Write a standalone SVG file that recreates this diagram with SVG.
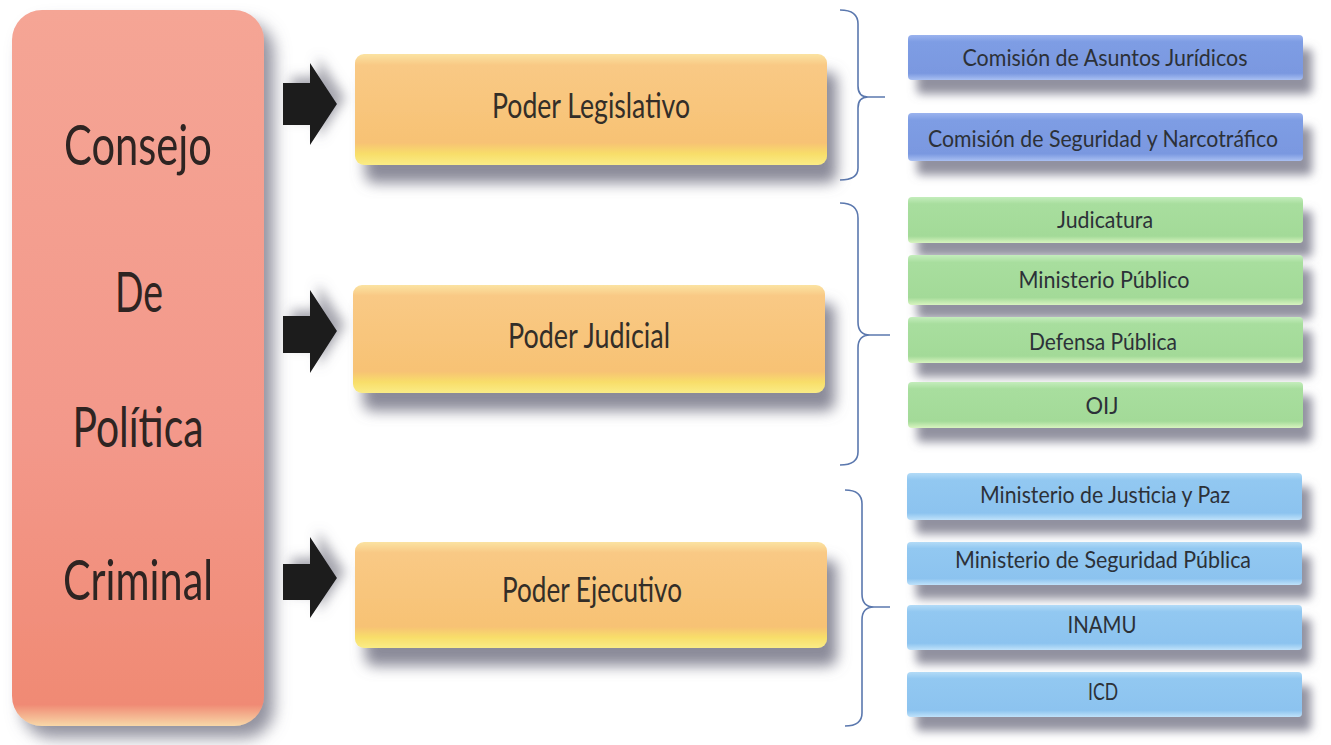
<svg xmlns="http://www.w3.org/2000/svg" width="1331" height="745" viewBox="0 0 1331 745">
<defs>
  <linearGradient id="gSalmon" x1="0" y1="0" x2="0" y2="1">
    <stop offset="0" stop-color="#F5A595"/>
    <stop offset="0.6" stop-color="#F3988A"/>
    <stop offset="0.97" stop-color="#F08A74"/>
    <stop offset="1" stop-color="#F8D8A8"/>
  </linearGradient>
  <linearGradient id="gOrange" x1="0" y1="0" x2="0" y2="1">
    <stop offset="0" stop-color="#FBE3A2"/>
    <stop offset="0.1" stop-color="#F9C985"/>
    <stop offset="0.8" stop-color="#F7C274"/>
    <stop offset="0.9" stop-color="#F8DE6A"/>
    <stop offset="1" stop-color="#FAEC86"/>
  </linearGradient>
  <linearGradient id="gPurple" x1="0" y1="0" x2="0" y2="1">
    <stop offset="0" stop-color="#9BB3EE"/>
    <stop offset="0.15" stop-color="#7E9DE4"/>
    <stop offset="0.85" stop-color="#7A98E0"/>
    <stop offset="1" stop-color="#A9C0F2"/>
  </linearGradient>
  <linearGradient id="gGreen" x1="0" y1="0" x2="0" y2="1">
    <stop offset="0" stop-color="#C4EDBC"/>
    <stop offset="0.15" stop-color="#A8DE9E"/>
    <stop offset="0.85" stop-color="#A3DA98"/>
    <stop offset="1" stop-color="#D8F4C0"/>
  </linearGradient>
  <linearGradient id="gBlue" x1="0" y1="0" x2="0" y2="1">
    <stop offset="0" stop-color="#B3DBF7"/>
    <stop offset="0.15" stop-color="#92C8F1"/>
    <stop offset="0.85" stop-color="#8CC3EF"/>
    <stop offset="1" stop-color="#BFE2FA"/>
  </linearGradient>
  <filter id="shBig" x="-20%" y="-20%" width="150%" height="150%">
    <feDropShadow dx="10" dy="12" stdDeviation="8" flood-color="#6e6e80" flood-opacity="0.75"/>
  </filter>
  <filter id="shMid" x="-10%" y="-30%" width="130%" height="190%">
    <feDropShadow dx="10" dy="18" stdDeviation="7" flood-color="#6e6e80" flood-opacity="0.8"/>
  </filter>
  <filter id="shSmall" x="-10%" y="-30%" width="130%" height="190%">
    <feDropShadow dx="9" dy="14" stdDeviation="5" flood-color="#767688" flood-opacity="0.8"/>
  </filter>
  <filter id="shArrow" x="-40%" y="-40%" width="200%" height="200%">
    <feDropShadow dx="8" dy="-6" stdDeviation="6" flood-color="#6a6a78" flood-opacity="0.6"/>
  </filter>
</defs>
<style>
  .big { font-family: Lato, "Open Sans", "Liberation Sans", sans-serif; font-size: 56px; fill: #2e2422; text-anchor: middle; }
  .mid { font-family: Lato, "Open Sans", "Liberation Sans", sans-serif; font-size: 35px; fill: #332e28; text-anchor: middle; }
  .sm { font-family: Lato, "Open Sans", "Liberation Sans", sans-serif; font-size: 24px; fill: #2c3138; text-anchor: middle; }
  .brace { fill: none; stroke: #5B78AE; stroke-width: 1.6; }
  .arrow { fill: #1c1c1c; }
</style>

<g id="consejo">
  <rect x="12" y="10" width="252" height="716" rx="30" fill="url(#gSalmon)" filter="url(#shBig)"/>
  <text class="big" x="138" y="165" textLength="148" lengthAdjust="spacingAndGlyphs">Consejo</text>
  <text class="big" x="139" y="312" textLength="48" lengthAdjust="spacingAndGlyphs">De</text>
  <text class="big" x="138" y="447" textLength="131" lengthAdjust="spacingAndGlyphs">Política</text>
  <text class="big" x="138" y="600" textLength="150" lengthAdjust="spacingAndGlyphs">Criminal</text>
</g>

<g id="connectors">
  <polygon class="arrow" filter="url(#shArrow)" points="283,83 310,83 310,63 337,104 310,145 310,125 283,125"/>
  <polygon class="arrow" filter="url(#shArrow)" points="283,316 310,316 310,290 337,331 310,373 310,353 283,353"/>
  <polygon class="arrow" filter="url(#shArrow)" points="283,564 310,564 310,537 337,578 310,618 310,600 283,600"/>
  <path class="brace" d="M840,10 Q858,10 858,24 L858,86 Q858,97 868,97 Q858,97 858,108 L858,168 Q858,180 840,180 M868,97 L885,97"/>
  <path class="brace" d="M840,203 Q858,203 858,218 L858,322 Q858,335 870,335 Q858,335 858,348 L858,452 Q858,465 840,465 M870,335 L890,335"/>
  <path class="brace" d="M845,490 Q862,490 862,504 L862,594 Q862,607 874,607 Q862,607 862,620 L862,713 Q862,726 845,726 M874,607 L890,607"/>
</g>

<g id="legislativo">
  <rect x="355" y="54" width="472" height="111" rx="9" fill="url(#gOrange)" filter="url(#shMid)"/>
  <text class="mid" x="591" y="118" textLength="198" lengthAdjust="spacingAndGlyphs">Poder Legislativo</text>
</g>
<g id="judicial">
  <rect x="353" y="285" width="472" height="108" rx="9" fill="url(#gOrange)" filter="url(#shMid)"/>
  <text class="mid" x="589" y="348" textLength="162" lengthAdjust="spacingAndGlyphs">Poder Judicial</text>
</g>
<g id="ejecutivo">
  <rect x="355" y="542" width="472" height="106" rx="9" fill="url(#gOrange)" filter="url(#shMid)"/>
  <text class="mid" x="592" y="602" textLength="180" lengthAdjust="spacingAndGlyphs">Poder Ejecutivo</text>
</g>

<g id="asuntos-juridicos">
  <rect x="908" y="35" width="395" height="45" rx="4" fill="url(#gPurple)" filter="url(#shSmall)"/>
  <text class="sm" x="1105" y="66" textLength="285" lengthAdjust="spacingAndGlyphs">Comisión de Asuntos Jurídicos</text>
</g>
<g id="seguridad-narcotrafico">
  <rect x="908" y="113" width="395" height="48" rx="4" fill="url(#gPurple)" filter="url(#shSmall)"/>
  <text class="sm" x="1103" y="147" textLength="350" lengthAdjust="spacingAndGlyphs">Comisión de Seguridad y Narcotráfico</text>
</g>

<g id="judicatura">
  <rect x="908" y="197" width="395" height="46" rx="4" fill="url(#gGreen)" filter="url(#shSmall)"/>
  <text class="sm" x="1105" y="228" textLength="96" lengthAdjust="spacingAndGlyphs">Judicatura</text>
</g>
<g id="ministerio-publico">
  <rect x="908" y="255" width="395" height="50" rx="4" fill="url(#gGreen)" filter="url(#shSmall)"/>
  <text class="sm" x="1104" y="288" textLength="171" lengthAdjust="spacingAndGlyphs">Ministerio Público</text>
</g>
<g id="defensa-publica">
  <rect x="908" y="317" width="395" height="46" rx="4" fill="url(#gGreen)" filter="url(#shSmall)"/>
  <text class="sm" x="1103" y="350" textLength="148" lengthAdjust="spacingAndGlyphs">Defensa Pública</text>
</g>
<g id="oij">
  <rect x="908" y="382" width="395" height="46" rx="4" fill="url(#gGreen)" filter="url(#shSmall)"/>
  <text class="sm" x="1102" y="414" textLength="33" lengthAdjust="spacingAndGlyphs">OIJ</text>
</g>

<g id="justicia-paz">
  <rect x="907" y="473" width="395" height="47" rx="4" fill="url(#gBlue)" filter="url(#shSmall)"/>
  <text class="sm" x="1105" y="503" textLength="250" lengthAdjust="spacingAndGlyphs">Ministerio de Justicia y Paz</text>
</g>
<g id="seguridad-publica">
  <rect x="907" y="542" width="395" height="43" rx="4" fill="url(#gBlue)" filter="url(#shSmall)"/>
  <text class="sm" x="1103" y="568" textLength="296" lengthAdjust="spacingAndGlyphs">Ministerio de Seguridad Pública</text>
</g>
<g id="inamu">
  <rect x="907" y="605" width="395" height="45" rx="4" fill="url(#gBlue)" filter="url(#shSmall)"/>
  <text class="sm" x="1102" y="633" textLength="69" lengthAdjust="spacingAndGlyphs">INAMU</text>
</g>
<g id="icd">
  <rect x="907" y="672" width="395" height="45" rx="4" fill="url(#gBlue)" filter="url(#shSmall)"/>
  <text class="sm" x="1103" y="700" textLength="30" lengthAdjust="spacingAndGlyphs">ICD</text>
</g>
</svg>
